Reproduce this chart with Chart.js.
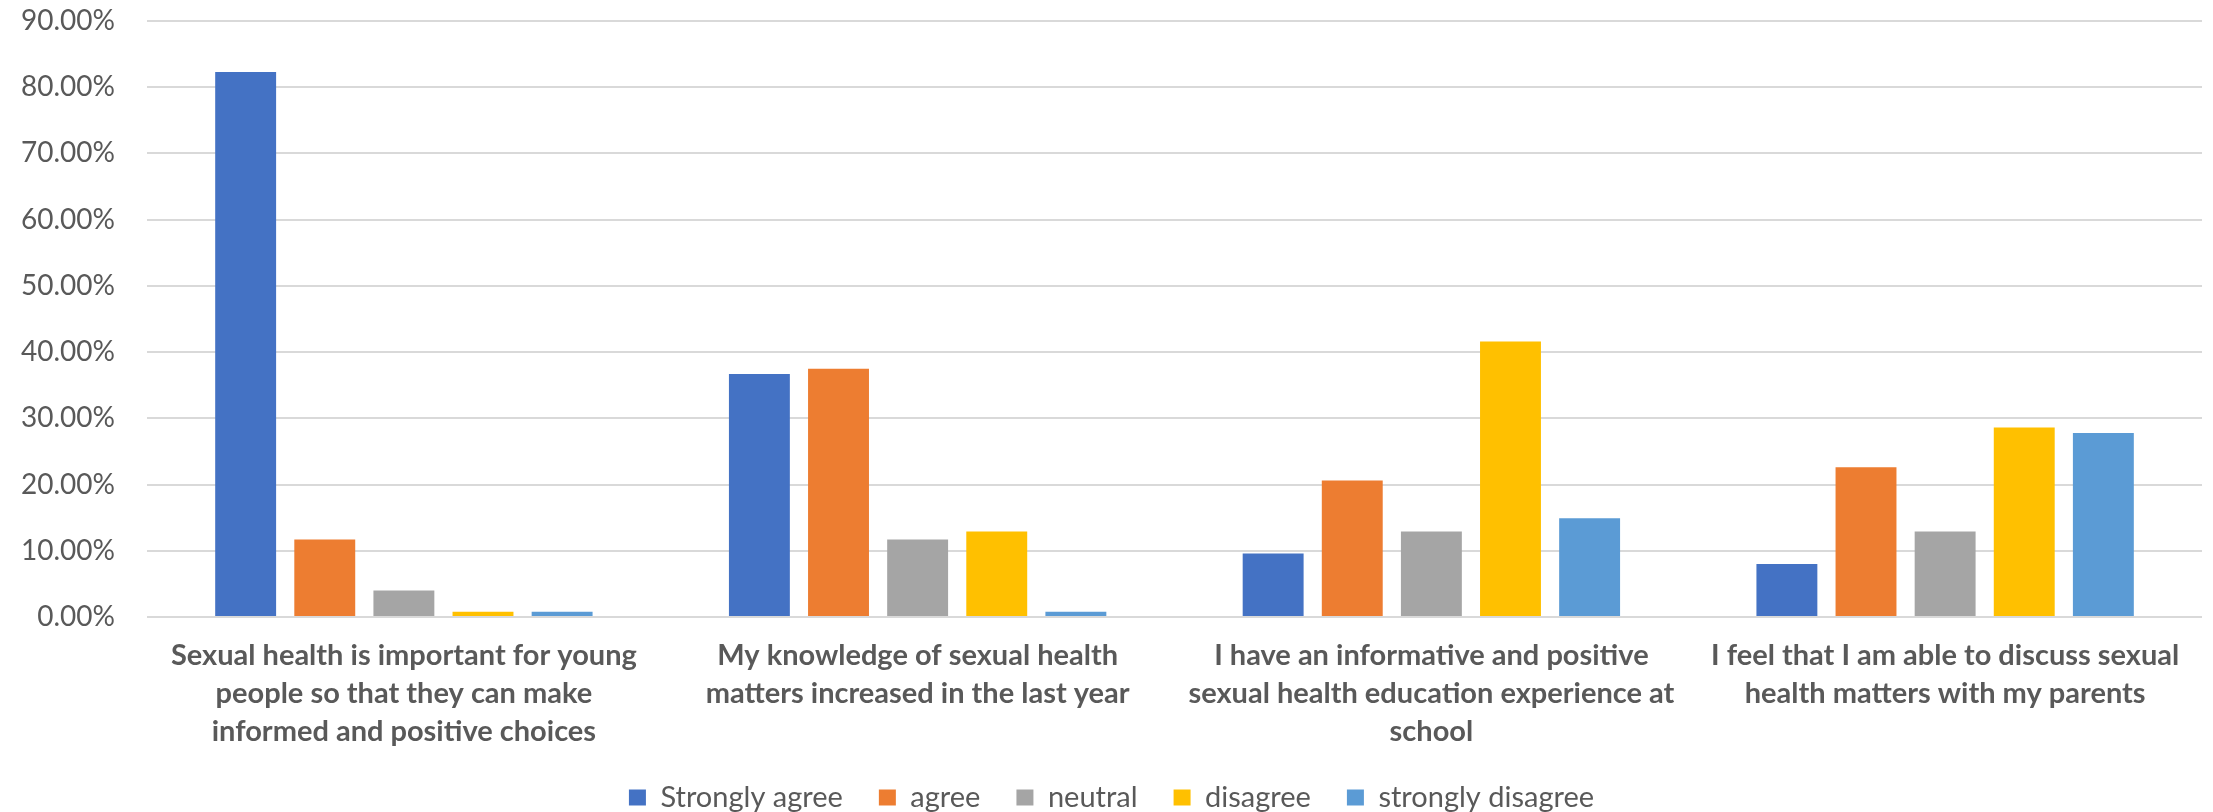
<!DOCTYPE html>
<html>
<head>
<meta charset="utf-8">
<script src="https://cdn.jsdelivr.net/npm/chart.js@4/dist/chart.umd.min.js"></script>
<style>
  html, body { margin: 0; padding: 0; background: #fff; }
  #wrap { width: 2213px; height: 812px; }
</style>
</head>
<body>
<div id="wrap"><canvas id="Chart" width="2213" height="812"></canvas></div>
<script>
// categories (already wrapped the way the original shows them)
var questions = [
    ["Sexual health is important for young", "people so that they can make", "informed and positive choices"],
    ["My knowledge of sexual health", "matters increased in the last year"],
    ["I have an informative and positive", "sexual health education experience at", "school"],
    ["I feel that I am able to discuss sexual", "health matters with my parents"]
];

// answers in percent
var strongly_agree    = [82.3, 36.7, 9.6, 8.0];
var agree             = [11.7, 37.5, 20.6, 22.6];
var neutral           = [4.0, 11.7, 12.9, 12.9];
var disagree          = [0.8, 12.9, 41.6, 28.6];
var strongly_disagree = [0.8, 0.8, 14.9, 27.8];

var series_names  = ["Strongly agree", "agree", "neutral", "disagree", "strongly disagree"];
var series_colors = ["#4472C4", "#ED7D31", "#A5A5A5", "#FFC000", "#5B9BD5"];

var y_max  = 90;
var y_step = 10;

function draw(){
    var all_values = [strongly_agree, agree, neutral, disagree, strongly_disagree];
    var datasets = [];
    for (let i = 0; i < series_names.length; i++) {
        datasets.push({
            label: series_names[i],
            data: all_values[i],
            backgroundColor: series_colors[i],
            borderWidth: 0,
            categoryPercentage: 0.77,
            barPercentage: 0.77
        });
    }

    var ctx = document.getElementById('Chart');
    var chart = new Chart(ctx, {
        type: "bar",
        data: {
            labels: questions,
            datasets: datasets
        },
        options: {
            responsive: false,
            animation: false,
            devicePixelRatio: 1,
            layout: { padding: { left: 21, right: 11, top: 0, bottom: -10 } },
            plugins: {
                tooltip: { enabled: false },
                legend: {
                    position: "bottom",
                    labels: {
                        color: "#595959",
                        font: { family: "Lato", size: 29 },
                        boxWidth: 17,
                        boxHeight: 16,
                        padding: 36
                    }
                }
            },
            scales: {
                x: {
                    grid: { display: false, tickLength: 0 },
                    border: { display: false },
                    ticks: {
                        color: "#595959",
                        font: { family: "Lato", size: 29, weight: "bold", lineHeight: 1.31 },
                        maxRotation: 0,
                        autoSkip: false,
                        padding: 20
                    },
                    /* chart.js counts the tick padding twice, take one back */
                    afterFit: function(scale){ scale.height -= 24; }
                },
                y: {
                    min: 0,
                    max: y_max,
                    grid: { color: "#D9D9D9", lineWidth: 2, drawTicks: false, tickLength: 0 },
                    border: { display: false },
                    ticks: {
                        stepSize: y_step,
                        color: "#595959",
                        font: { family: "Lato", size: 28 },
                        padding: 32,
                        callback: function(v){ return v.toFixed(2) + "%"; }
                    },
                    afterFit: function(scale){
                        scale.width -= 32;
                        scale.paddingTop = 21;
                    }
                }
            }
        }
    });
}

// wait for the fonts so that Chart.js measures the right widths
Promise.all([
    document.fonts.load("28px Lato"),
    document.fonts.load("29px Lato"),
    document.fonts.load("bold 29px Lato")
]).then(draw, draw);
</script>
</body>
</html>
